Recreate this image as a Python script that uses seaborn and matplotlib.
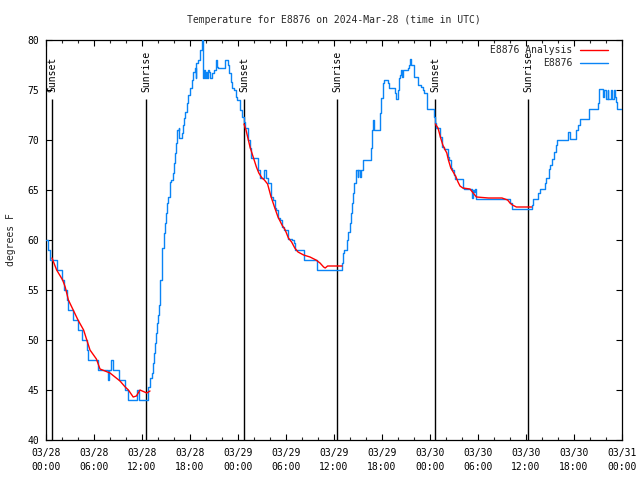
import numpy as np
import pandas as pd
import matplotlib
matplotlib.use("Agg")
import matplotlib.pyplot as plt
import matplotlib.dates as mdates
import seaborn as sns

# ---------------- data (hours after 2024-03-28 00:00 UTC, degrees F) ----------------
obs_hours = [0.0, 0.3, 0.45, 1.33, 1.96, 2.3, 2.6, 2.8, 3.4, 3.96, 4.5, 5.1, 5.3, 6.55, 7.75, 7.85,
             8.15, 8.35, 9.1, 9.9, 10.3, 11.4, 11.6, 12.8, 13.0, 13.2, 13.35, 13.5, 13.6, 13.75, 13.9,
             14.0, 14.15, 14.25, 14.3, 14.45, 14.55, 14.7, 14.8, 14.9, 15.05, 15.15, 15.3, 15.5, 15.6,
             15.9, 16.0, 16.1, 16.25, 16.4, 16.6, 16.65, 16.95, 17.1, 17.25, 17.4, 17.6, 17.8, 18.0,
             18.2, 18.4, 18.6, 18.7, 18.8, 19.0, 19.2, 19.3, 19.45, 19.55, 19.6, 19.67, 19.8, 19.9,
             20.0, 20.08, 20.2, 20.4, 20.5, 20.8, 21.0, 21.2, 21.35, 21.5, 22.4, 22.8, 22.9, 23.1,
             23.3, 23.5, 23.75, 23.9, 24.2, 24.3, 24.5, 24.7, 24.9, 25.3, 25.5, 25.65, 26.5, 26.75,
             27.3, 27.55, 27.8, 28.1, 28.4, 28.6, 28.8, 28.96, 29.25, 29.5, 29.7, 30.2, 30.7, 31.0,
             31.1, 32.2, 33.9, 36.95, 37.1, 37.25, 37.6, 37.8, 37.95, 38.1, 38.2, 38.35, 38.5, 38.7,
             38.95, 39.05, 39.25, 39.4, 39.6, 40.6, 40.75, 40.85, 40.95, 41.75, 41.9, 42.1, 42.25,
             42.75, 42.85, 43.6, 43.8, 43.95, 44.1, 44.25, 44.4, 44.55, 44.65, 45.3, 45.4, 45.55,
             45.65, 46.0, 46.5, 46.9, 47.1, 47.3, 47.6, 48.55, 48.65, 48.8, 49.2, 49.3, 49.55, 49.7,
             50.2, 50.4, 50.6, 50.75, 51.0, 51.1, 52.1, 52.2, 53.2, 53.3, 53.4, 53.5, 53.6, 53.75,
             53.8, 58.0, 58.2, 60.75, 60.9, 61.5, 61.7, 62.4, 62.5, 62.9, 63.05, 63.2, 63.5, 63.75,
             63.9, 65.2, 65.45, 66.3, 66.5, 66.7, 67.9, 69.0, 69.15, 69.65, 69.8, 70.0, 70.2, 70.3,
             70.6, 70.75, 71.0, 71.1, 71.3, 71.4, 72.0]
obs_temps = [60.0, 59.0, 58.0, 57.0, 56.0, 55.0, 54.0, 53.0, 52.0, 51.0, 50.0, 49.0, 48.0, 47.0, 46.0, 47.0,
             48.0, 47.0, 46.0, 45.0, 44.0, 45.0, 44.0, 45.3, 46.2, 46.7, 47.7, 48.7, 49.7, 50.7, 51.7,
             52.5, 53.5, 54.5, 56.0, 58.0, 59.2, 59.8, 60.7, 61.7, 62.7, 63.7, 64.3, 65.8, 66.0,
             66.7, 67.7, 68.7, 69.7, 71.0, 71.2, 70.2, 70.7, 71.5, 72.2, 72.8, 73.7, 74.5, 75.2,
             76.0, 76.8, 77.2, 76.2, 77.7, 78.0, 78.5, 79.0, 79.8, 80.0, 78.5, 76.2, 77.0, 76.2,
             76.8, 76.2, 77.0, 76.8, 76.2, 76.7, 77.0, 78.0, 77.3, 77.2, 78.0, 77.5, 76.7, 75.8,
             75.2, 75.0, 74.3, 74.0, 73.5, 73.0, 72.3, 71.8, 71.2, 70.0, 69.2, 68.2, 67.0, 66.2,
             67.0, 66.2, 65.7, 64.3, 64.0, 63.2, 63.0, 62.2, 62.0, 61.3, 61.0, 60.1, 60.0, 59.7,
             59.0, 58.0, 57.0, 57.7, 58.7, 59.0, 60.0, 60.8, 61.7, 62.7, 63.7, 64.7, 65.7, 67.0,
             66.3, 67.0, 66.3, 67.0, 68.0, 69.2, 71.0, 72.0, 71.0, 72.7, 74.2, 75.7, 76.0,
             75.7, 75.2, 74.7, 74.1, 75.0, 76.2, 76.5, 77.0, 76.3, 77.0, 77.2, 77.5, 78.1,
             77.5, 76.3, 75.5, 75.3, 75.0, 74.7, 73.1, 72.3, 71.7, 71.2, 70.7, 70.3, 69.3, 69.1,
             68.3, 68.0, 67.2, 67.0, 66.5, 66.1, 65.2, 65.1, 64.5, 64.2, 65.0, 64.8, 65.1, 64.4,
             64.1, 63.7, 63.1, 63.5, 64.1, 64.7, 65.1, 65.7, 66.2, 67.1, 67.5, 68.1, 68.8, 69.5,
             70.0, 70.8, 70.1, 71.0, 71.5, 72.1, 73.1, 73.7, 75.1, 74.3, 75.0, 74.1, 75.0, 74.1,
             75.0, 74.1, 75.0, 74.3, 73.8, 73.1, 73.1]

ana_night = [1] * 21 + [2] * 26 + [3] * 22
ana_hours = [0.75, 1.33, 2.08, 2.4, 2.8, 3.4, 4.0, 4.7, 5.1, 5.5, 6.3, 6.75, 8.0, 9.25, 9.9, 10.3, 10.9,
             11.3, 11.75, 12.6, 13.0,
             24.75, 25.0, 25.5, 25.9, 26.3, 26.6, 27.0, 27.3, 27.7, 28.1, 28.6, 29.0, 29.5, 29.9, 30.3,
             30.7, 31.1, 31.5, 32.2, 33.0, 33.75, 34.25, 34.7, 34.9, 35.2, 37.0,
             48.67, 49.0, 49.3, 49.6, 49.9, 50.1, 50.3, 50.6, 50.9, 51.25, 51.5, 51.75, 52.1, 53.0,
             53.8, 55.3, 57.0, 57.7, 58.0, 58.3, 58.8, 60.7]
ana_temps = [58.2, 57.0, 56.0, 55.3, 54.0, 53.0, 52.0, 51.0, 50.0, 49.0, 48.1, 47.1, 46.7, 45.9, 45.3,
             45.0, 44.3, 44.4, 45.0, 44.7, 44.9,
             71.6, 71.0, 69.3, 68.3, 67.3, 66.7, 66.2, 66.0, 65.6, 64.4, 63.2, 62.3, 61.5, 61.0, 60.2,
             59.8, 59.2, 58.8, 58.5, 58.3, 58.0, 57.7, 57.3, 57.2, 57.4, 57.4,
             71.6, 71.2, 70.3, 69.5, 69.0, 68.7, 68.0, 67.2, 66.8, 66.3, 65.8, 65.4, 65.2, 65.1,
             64.3, 64.2, 64.2, 64.0, 63.7, 63.5, 63.3, 63.3]

event_labels = ["Sunset", "Sunrise", "Sunset", "Sunrise", "Sunset", "Sunrise"]
event_hours = [0.78, 12.55, 24.75, 36.4, 48.67, 60.3]

station = "E8876"
title = "Temperature for E8876 on 2024-Mar-28 (time in UTC)"
ylabel = "degrees F"
y_ticks = [40, 45, 50, 55, 60, 65, 70, 75, 80]

# ---------------- build frames ----------------
t0 = pd.Timestamp("2024-03-28 00:00")
obs = pd.DataFrame({"time": t0 + pd.to_timedelta(obs_hours, unit="h"), "temp": obs_temps})
ana = pd.DataFrame({"time": t0 + pd.to_timedelta(ana_hours, unit="h"), "temp": ana_temps,
                    "night": ana_night})
ev_times = t0 + pd.to_timedelta(event_hours, unit="h")

# ---------------- style ----------------
sns.set_style("white")
plt.rcParams["font.family"] = ["DejaVu Sans Mono"]
plt.rcParams["font.size"] = 7

fig = plt.figure(figsize=(6.4, 4.8), dpi=100)
ax = fig.add_axes([46 / 640, 40 / 480, 576 / 640, 400 / 480])

sns.lineplot(data=ana, x="time", y="temp", units="night", estimator=None, color="#ff0000",
             linewidth=1.0, ax=ax, legend=False, zorder=4)
sns.lineplot(data=obs, x="time", y="temp", estimator=None, color="#0a84f5",
             linewidth=1.0, drawstyle="steps-post", ax=ax, legend=False, zorder=3)

ax.vlines(ev_times, 40, 74.1, colors="black", linewidth=1.0, zorder=2)
for lab, t in zip(event_labels, ev_times):
    ax.text(t, 74.8, lab, rotation=90, ha="center", va="bottom", fontsize=7, color="black")

ax.set_xlim(t0, t0 + pd.Timedelta(hours=72))
ax.set_ylim(40, 80)
ax.set_yticks(y_ticks)
ax.xaxis.set_major_locator(mdates.HourLocator(byhour=[0, 6, 12, 18]))
ax.xaxis.set_minor_locator(mdates.HourLocator(byhour=range(0, 24, 2)))
ax.xaxis.set_major_formatter(mdates.DateFormatter("%m/%d\n%H:%M"))
for lbl in ax.get_xticklabels():
    lbl.set_linespacing(1.5)

ax.tick_params(axis="both", which="major", direction="in", length=4, width=0.8,
               top=True, right=True, bottom=True, left=True, labelsize=7, colors="black")
ax.tick_params(axis="x", which="minor", direction="in", length=2.2, width=0.8,
               top=True, bottom=True)
ax.tick_params(axis="x", which="major", pad=6)
ax.tick_params(axis="y", which="major", pad=5)
for s in ax.spines.values():
    s.set_visible(True)
    s.set_color("black")
    s.set_linewidth(0.9)

ax.set_xlabel("")
ax.set_ylabel(ylabel, fontsize=7, labelpad=8)
ax.set_title(title, fontsize=7, pad=12)

# legend: one entry per series (red analysis line = first line, blue obs = last line)
lines = ax.get_lines()
handles = [lines[0], lines[-1]]
labels = [f"{station} Analysis", station]
leg = ax.legend(handles, labels, loc="upper right", frameon=False, markerfirst=False, fontsize=7,
                handlelength=2.9, handletextpad=0.8, labelspacing=0.3,
                borderaxespad=0.15, bbox_to_anchor=(0.985, 1.0))
for line in leg.get_lines():
    line.set_linewidth(1.0)

fig.savefig("out.png", dpi=100, facecolor="white")
